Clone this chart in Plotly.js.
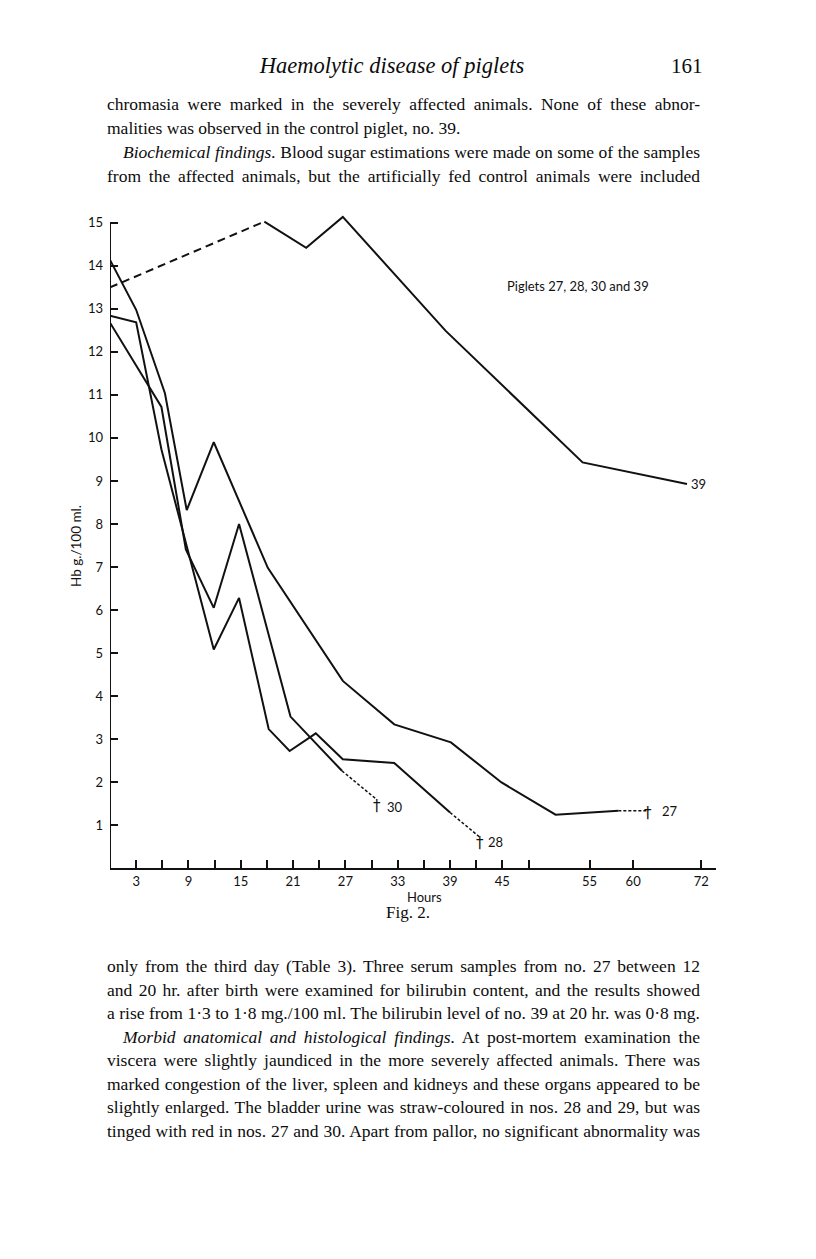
<!DOCTYPE html>
<html>
<head>
<meta charset="utf-8">
<script src="https://cdn.plot.ly/plotly-3.0.1.min.js"></script>
<style>
  html, body { margin:0; padding:0; background:#fff; }
  #page { position:relative; width:816px; height:1259px; overflow:hidden; background:#fff; }
  #chart { position:absolute; left:0; top:0; width:816px; height:1259px; }
  .t { position:absolute; left:107px; width:593px; font-family:"Liberation Serif", serif; font-size:17.5px; line-height:22px; color:#0c0c0c; white-space:nowrap; z-index:2; }
  .t span { white-space:nowrap; }
  .ind { padding-left:16px; }
  i { font-style:italic; }
</style>
</head>
<body>
<div id="page">
  <div id="chart"></div>

  <div class="t" style="top:55px;left:0;width:816px;">
    <span style="position:absolute;left:392px;transform:translateX(-50%);font-style:italic;font-size:22.5px;">Haemolytic disease of piglets</span>
    <span style="position:absolute;left:671px;font-size:21px;">161</span>
  </div>

  <div class="t j" style="top:93px;"><span>chromasia were marked in the severely affected animals. None of these abnor-</span></div>
  <div class="t" style="top:117px;"><span>malities was observed in the control piglet, no. 39.</span></div>
  <div class="t j ind" style="top:141px;"><span><i>Biochemical findings.</i> Blood sugar estimations were made on some of the samples</span></div>
  <div class="t j" style="top:165px;"><span>from the affected animals, but the artificially fed control animals were included</span></div>

  <div class="t" style="top:902px;left:358px;width:100px;text-align:center;font-size:17px;"><span>Fig. 2.</span></div>

  <div class="t j" style="top:955px;"><span>only from the third day (Table 3). Three serum samples from no. 27 between 12</span></div>
  <div class="t j" style="top:979px;"><span>and 20 hr. after birth were examined for bilirubin content, and the results showed</span></div>
  <div class="t j" style="top:1002px;"><span>a rise from 1·3 to 1·8 mg./100 ml. The bilirubin level of no. 39 at 20 hr. was 0·8 mg.</span></div>
  <div class="t j ind" style="top:1026px;"><span><i>Morbid anatomical and histological findings.</i> At post-mortem examination the</span></div>
  <div class="t j" style="top:1049px;"><span>viscera were slightly jaundiced in the more severely affected animals. There was</span></div>
  <div class="t j" style="top:1073px;"><span>marked congestion of the liver, spleen and kidneys and these organs appeared to be</span></div>
  <div class="t j" style="top:1096px;"><span>slightly enlarged. The bladder urine was straw-coloured in nos. 28 and 29, but was</span></div>
  <div class="t j" style="top:1120px;"><span>tinged with red in nos. 27 and 30. Apart from pallor, no significant abnormality was</span></div>
</div>

<script>
// ---------------- DATA (hours after birth, Hb g./100 ml.) ----------------
const p39DashHours = [0, 17.7];
const p39DashHb    = [13.5, 15.03];
const p39Hours     = [17.7, 22.5, 26.7, 38.5, 54.2, 69.5];
const p39Hb        = [15.03, 14.42, 15.14, 12.49, 9.43, 8.93];

const p27Hours     = [0, 3, 6.3, 8.8, 11.9, 18.1, 26.7, 32.6, 39.1, 44.9, 51.1, 58.3];
const p27Hb        = [14.14, 12.98, 11.04, 8.32, 9.9, 6.98, 4.35, 3.34, 2.92, 1.99, 1.24, 1.33];
const p27DashHours = [58.3, 62.7];
const p27DashHb    = [1.33, 1.33];

const p28Hours     = [0, 3, 5.9, 11.9, 14.8, 18.2, 20.6, 23.6, 26.7, 32.6, 39.0];
const p28Hb        = [12.84, 12.69, 9.73, 5.08, 6.28, 3.23, 2.72, 3.13, 2.53, 2.44, 1.29];
const p28DashHours = [39.0, 42.4];
const p28DashHb    = [1.29, 0.72];

const p30Hours     = [0, 5.9, 8.7, 11.9, 14.8, 20.7, 26.6];
const p30Hb        = [12.68, 10.72, 7.41, 6.05, 8.0, 3.52, 2.26];
const p30DashHours = [26.6, 30.6];
const p30DashHb    = [2.26, 1.59];

const xTickHours = [3, 6, 9, 12, 15, 18, 21, 24, 27, 30, 33, 36, 39, 42, 45, 48, 55, 60, 72];
const xTickText  = ['3', '', '9', '', '15', '', '21', '', '27', '', '33', '', '39', '', '45', '', '55', '60', '72'];
const yTickVals  = [1, 2, 3, 4, 5, 6, 7, 8, 9, 10, 11, 12, 13, 14, 15];

const chartNote  = 'Piglets 27, 28, 30 and 39';
const yTitle     = 'Hb g./100 ml.';
const xTitle     = 'Hours';

// The original hour axis is compressed after 60 h (72 h is drawn close to 60 h).
const AXIS_BREAK = 60, BREAK_FACTOR = 0.65;
function toAx(h) { return h <= AXIS_BREAK ? h : AXIS_BREAK + (h - AXIS_BREAK) * BREAK_FACTOR; }

const INK = '#111111';
function line(xs, ys, dash, w) {
  return { type:'scatter', mode:'lines', x: xs.map(toAx), y: ys, hoverinfo:'skip',
           line:{ color: INK, width: w || 2, dash: dash || 'solid' } };
}

const data = [
  line(p39DashHours, p39DashHb, '8px,5px'),
  line(p39Hours, p39Hb),
  line(p27Hours, p27Hb),
  line(p27DashHours, p27DashHb, '3px,2px', 1.5),
  line(p28Hours, p28Hb),
  line(p28DashHours, p28DashHb, '3px,2px', 1.5),
  line(p30Hours, p30Hb),
  line(p30DashHours, p30DashHb, '3px,2px', 1.5)
];

function lastOf(a) { return a[a.length - 1]; }
const lblFont = { family:'Lato, "Open Sans", sans-serif', size:13, color: INK };
const dagFont = { family:'"DejaVu Sans", sans-serif', size:15, color: INK };

function endLabel(xh, y, txt, xs, ys) {
  return { xref:'x', yref:'y', x: toAx(xh), y: y, text: txt, showarrow:false,
           xanchor:'left', yanchor:'middle', xshift: xs, yshift: ys, font: lblFont };
}
function dagger(xh, y, ys) {
  return { xref:'x', yref:'y', x: toAx(xh), y: y, text:'†', showarrow:false,
           xanchor:'center', yanchor:'middle', xshift: 0, yshift: ys, font: dagFont };
}

const annotations = [
  endLabel(lastOf(p39Hours), lastOf(p39Hb), '39', 2, 0),
  dagger(lastOf(p27DashHours), lastOf(p27DashHb), -2),
  endLabel(lastOf(p27DashHours), lastOf(p27DashHb), '27', 12, 0),
  dagger(lastOf(p28DashHours), lastOf(p28DashHb), -6),
  endLabel(lastOf(p28DashHours), lastOf(p28DashHb), '28', 6, -5),
  dagger(lastOf(p30DashHours), lastOf(p30DashHb), -6),
  endLabel(lastOf(p30DashHours), lastOf(p30DashHb), '30', 8, -7),
  { xref:'x', yref:'y', x: 53.7, y: 13.53, text: chartNote, showarrow:false,
    xanchor:'center', yanchor:'middle', font: lblFont },
  { xref:'paper', yref:'paper', x: (76 - 110) / 606, y: (868 - 546) / 658, text: yTitle,
    textangle: -90, showarrow:false, xanchor:'center', yanchor:'middle',
    font: { family: lblFont.family, size: 13.5, color: INK } },
  { xref:'paper', yref:'paper', x: (424 - 110) / 606, y: -(897 - 868) / 658, text: xTitle,
    showarrow:false, xanchor:'center', yanchor:'middle',
    font: { family: lblFont.family, size: 13, color: INK } }
];

const layout = {
  width: 816, height: 1259,
  margin: { l:110, r:100, t:210, b:391, pad:0 },
  paper_bgcolor:'rgba(0,0,0,0)', plot_bgcolor:'rgba(0,0,0,0)',
  showlegend:false,
  font: lblFont,
  xaxis: {
    range:[0, 69.5], tickmode:'array', tickvals: xTickHours.map(toAx), ticktext: xTickText,
    ticks:'inside', ticklen:8, tickwidth:2, tickcolor: INK,
    showline:true, linewidth:2, linecolor: INK, showgrid:false, zeroline:false,
    tickfont: lblFont, fixedrange:true
  },
  yaxis: {
    range:[0, 15.3], tickmode:'array', tickvals: yTickVals,
    ticks:'inside', ticklen:8, tickwidth:2, tickcolor: INK,
    showline:false, showgrid:false, zeroline:false, ticklabelstandoff: 6,
    tickfont: lblFont, fixedrange:true
  },
  shapes: [
    { type:'line', xref:'x', yref:'y', x0:0, x1:0, y0:0, y1:15, line:{ color: INK, width:2 } }
  ],
  annotations: annotations
};

Plotly.newPlot('chart', data, layout, { staticPlot:true, displayModeBar:false });

// Justify each prose line to the full measure (593 px) like the printed page.
document.querySelectorAll('.t.j').forEach(function (div) {
  const span = div.querySelector('span');
  const indent = div.classList.contains('ind') ? 16 : 0;
  const target = 593 - indent;
  const natural = span.getBoundingClientRect().width;
  const chars = span.textContent.length;
  const spaces = (span.textContent.match(/ /g) || []).length;
  let extra = target - natural;
  if (extra < 0) {
    const ls = Math.max(extra * 0.5 / chars, -0.4);
    span.style.letterSpacing = ls + 'px';
    extra -= ls * chars;
  }
  if (spaces > 0) span.style.wordSpacing = (extra / spaces) + 'px';
});
</script>
</body>
</html>
